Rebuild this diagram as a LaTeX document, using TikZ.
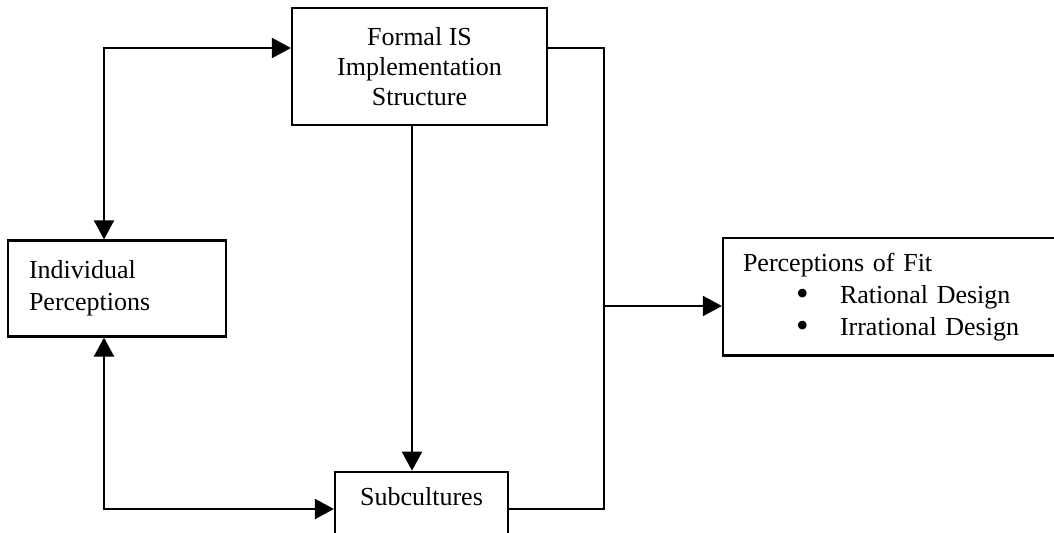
\documentclass[tikz,border=0pt]{standalone}
\usepackage{fontspec}
\setmainfont{Liberation Serif}
\usepackage{tikz}
\usetikzlibrary{arrows.meta,positioning,calc}
\newcommand{\fitbul}{\makebox[48.5pt][l]{\hspace{26.5pt}\raisebox{-1.3pt}{\fontsize{18}{16}\selectfont\textbullet}}}

\begin{document}
\begin{tikzpicture}[
    x=0.5pt, y=-0.5pt,
    box/.style={draw, line width=1.1pt, inner sep=0pt,
                font=\fontsize{13}{16}\selectfont},
    arr/.style={-{Triangle[length=9.5pt, width=10pt]}, line width=1pt},
    dbl_arr/.style={{Triangle[length=9.5pt, width=10pt]}-{Triangle[length=9.5pt, width=10pt]},
                    line width=1pt},
    wire/.style={line width=1pt}
]

\useasboundingbox (0,0) rectangle (1054,533);
\clip (0,0) rectangle (1054,533);

% Boxes
\node[box, minimum width=127.5pt, minimum height=58.5pt, align=center,
      font=\fontsize{13}{15}\selectfont] (formal_box) at (419.5, 66.5)
      {Formal IS\\Implementation\\Structure};
\node[box, minimum height=48pt, text width=88pt, inner xsep=10.5pt,
      align=left] (indiv_box) at (117, 288.5) {Individual\\Perceptions};
\node[box, anchor=north, minimum width=86.5pt, inner ysep=8pt,
      text height=9.1pt, text depth=40pt] (sub_box) at (421.5, 470.7) {Subcultures};
\node[box, minimum height=58.75pt, text width=148.5pt, inner xsep=10pt,
      align=left] (fit_box) at (891.5, 296.75)
      {Perceptions of Fit\\ \fitbul Rational Design\\ \fitbul Irrational Design};

% Bends of the connectors
\coordinate (top_left) at (104, 48);
\coordinate (bot_left) at (104, 509);
\coordinate (top_right) at (604, 48);
\coordinate (bot_right) at (604, 509);
\coordinate (mid_right) at (604, 306);
\coordinate (mid_down) at (412, 300);

% Connectors
\draw[dbl_arr] (indiv_box.north -| top_left) -- (top_left) -- (formal_box.west |- top_left);
\draw[dbl_arr] (indiv_box.south -| bot_left) -- (bot_left) -- (sub_box.west |- bot_left);
\draw[arr] (formal_box.south -| mid_down) -- (sub_box.north -| mid_down);
\draw[wire] (formal_box.east |- top_right) -- (top_right) -- (bot_right)
    -- (sub_box.east |- bot_right);
\draw[arr] (mid_right) -- (fit_box.west |- mid_right);

\end{tikzpicture}
\end{document}
